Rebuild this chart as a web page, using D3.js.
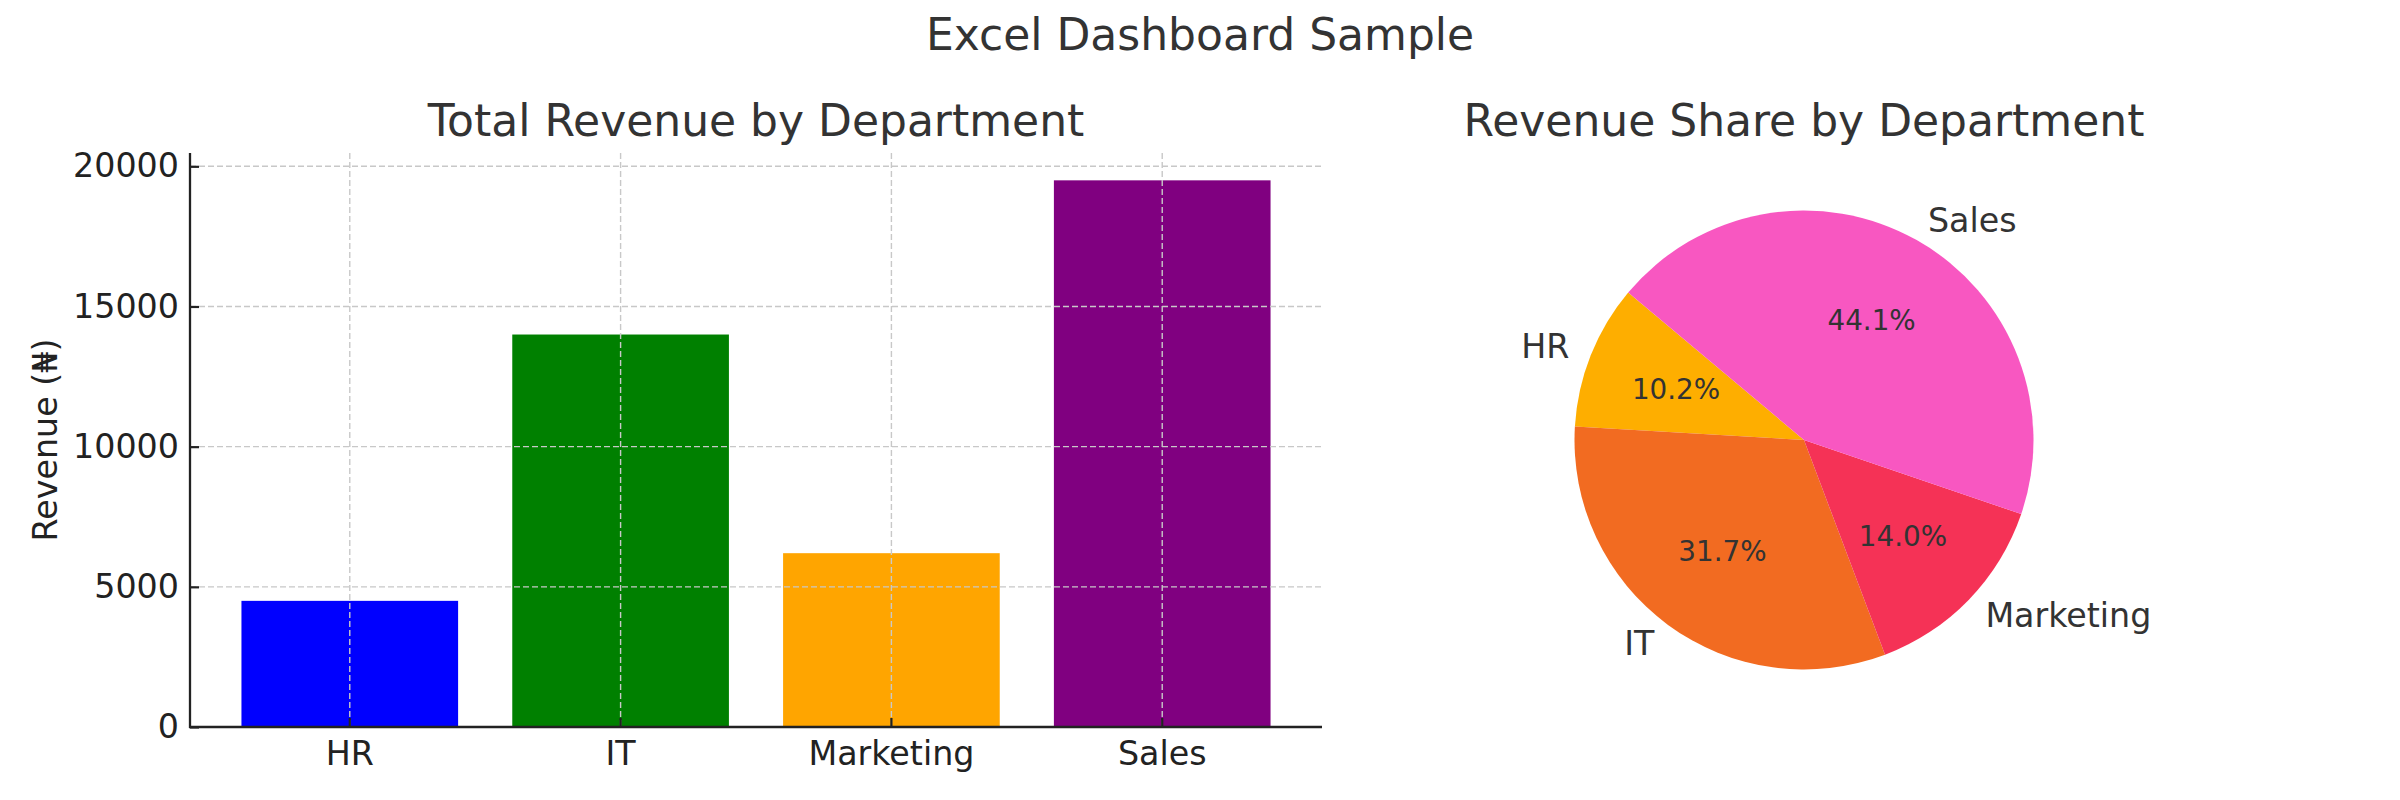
<!DOCTYPE html>
<html>
<head>
<meta charset="utf-8">
<script src="https://cdn.jsdelivr.net/npm/d3@7"></script>
<style>
  body { margin: 0; background: #fff; }
  text { font-family: "DejaVu Sans", sans-serif; }
</style>
</head>
<body>
<script>
// data
var departments = ["HR", "IT", "Marketing", "Sales"];
var revenue = [4500, 14000, 6200, 19500];
var barColors = ["#0000ff", "#008000", "#ffa500", "#800080"];
var pieColors = ["#feae00", "#f26b21", "#f53256", "#f857c1"];
var yTicks = [0, 5000, 10000, 15000, 20000];

var W = 2400, H = 800;

var svg = d3.select("body").append("svg")
  .attr("width", W)
  .attr("height", H);

svg.append("text")
  .attr("x", 1200).attr("y", 50)
  .attr("text-anchor", "middle")
  .style("font-size", "44px")
  .style("fill", "#333")
  .text("Excel Dashboard Sample");

// ---- bar chart ----
var plot = { left: 190, right: 1322, top: 153, bottom: 727 };

var x = d3.scaleBand()
  .domain(departments)
  .range([plot.left, plot.right])
  .paddingInner(0.2)
  .paddingOuter(0.19);

var y = d3.scaleLinear()
  .domain([0, d3.max(revenue) * 1.05])
  .range([plot.bottom, plot.top]);

var bar = svg.append("g").attr("id", "bar-chart");

bar.append("text")
  .attr("x", (plot.left + plot.right) / 2).attr("y", 136)
  .attr("text-anchor", "middle")
  .style("font-size", "44px")
  .style("fill", "#333")
  .text("Total Revenue by Department");

bar.selectAll(".bar")
  .data(revenue)
  .enter()
  .append("rect")
  .attr("class", "bar")
  .attr("x", (d, i) => x(departments[i]))
  .attr("y", d => y(d))
  .attr("width", x.bandwidth())
  .attr("height", d => y(0) - y(d))
  .attr("fill", (d, i) => barColors[i]);

// grid on top of bars (dashed)
var grid = bar.append("g").attr("class", "grid")
  .style("stroke", "#c8c8c8")
  .style("stroke-width", 1.4)
  .style("stroke-dasharray", "6,3");

grid.selectAll(".hgrid")
  .data(yTicks)
  .enter().append("line")
  .attr("x1", plot.left).attr("x2", plot.right)
  .attr("y1", d => y(d)).attr("y2", d => y(d));

grid.selectAll(".vgrid")
  .data(departments)
  .enter().append("line")
  .attr("x1", d => x(d) + x.bandwidth() / 2)
  .attr("x2", d => x(d) + x.bandwidth() / 2)
  .attr("y1", plot.top).attr("y2", plot.bottom);

// axes
var yAxis = d3.axisLeft(y)
  .tickValues(yTicks)
  .tickFormat(d3.format("d"))
  .tickSizeInner(-9).tickSizeOuter(0).tickPadding(11);
var gy = bar.append("g")
  .attr("transform", "translate(" + plot.left + ",0)")
  .call(yAxis);
gy.select(".domain").remove();
gy.selectAll(".tick line").style("stroke", "#222").style("stroke-width", 2.2);
gy.selectAll(".tick text")
  .style("font-size", "33.3px")
  .style("font-family", "DejaVu Sans")
  .style("fill", "#222");

var xAxis = d3.axisBottom(x).tickSizeInner(-9).tickSizeOuter(0).tickPadding(0);
var gx = bar.append("g")
  .attr("transform", "translate(0," + plot.bottom + ")")
  .call(xAxis);
gx.select(".domain").remove();
gx.selectAll(".tick line").style("stroke", "#222").style("stroke-width", 2.2);
gx.selectAll(".tick text")
  .attr("y", 38).attr("dy", null)
  .style("font-size", "33.3px")
  .style("font-family", "DejaVu Sans")
  .style("fill", "#222");

// spines: left and bottom only
bar.append("line")
  .attr("x1", plot.left).attr("x2", plot.left)
  .attr("y1", plot.top).attr("y2", plot.bottom + 1)
  .style("stroke", "#222").style("stroke-width", 2.3);
bar.append("line")
  .attr("x1", plot.left - 1).attr("x2", plot.right)
  .attr("y1", plot.bottom).attr("y2", plot.bottom)
  .style("stroke", "#222").style("stroke-width", 2.3);

bar.append("text")
  .attr("transform", "translate(57," + (plot.top + plot.bottom) / 2 + ") rotate(-90)")
  .attr("text-anchor", "middle")
  .style("font-size", "33.3px")
  .style("fill", "#222")
  .text("Revenue (\u20a6)");

// ---- pie chart ----
var cx = 1804, cy = 440, r = 229.5;
var total = d3.sum(revenue);
var startDeg = 140; // counterclockwise from 3 o'clock, like matplotlib

var pie = d3.pie()
  .sort(null)
  .startAngle((90 - startDeg) * Math.PI / 180)
  .endAngle((90 - startDeg - 360) * Math.PI / 180);

var arcs = pie(revenue);
var arc = d3.arc().innerRadius(0).outerRadius(r);

var pg = svg.append("g").attr("id", "pie-chart");

pg.append("text")
  .attr("x", cx).attr("y", 136)
  .attr("text-anchor", "middle")
  .style("font-size", "44px")
  .style("fill", "#333")
  .text("Revenue Share by Department");

var slices = pg.append("g").attr("transform", "translate(" + cx + "," + cy + ")");

slices.selectAll("path")
  .data(arcs)
  .enter().append("path")
  .attr("d", arc)
  .attr("fill", (d, i) => pieColors[i]);

function midPoint(d, k) {
  var a = (d.startAngle + d.endAngle) / 2;
  return [Math.sin(a) * r * k, -Math.cos(a) * r * k];
}

slices.selectAll(".pie-label")
  .data(arcs)
  .enter().append("text")
  .attr("class", "pie-label")
  .attr("x", d => midPoint(d, 1.1)[0])
  .attr("y", d => midPoint(d, 1.1)[1])
  .attr("dy", "0.35em")
  .attr("text-anchor", d => midPoint(d, 1.1)[0] >= 0 ? "start" : "end")
  .style("font-size", "33.3px")
  .style("fill", "#333")
  .text((d, i) => departments[i]);

slices.selectAll(".pct-label")
  .data(arcs)
  .enter().append("text")
  .attr("class", "pct-label")
  .attr("x", d => midPoint(d, 0.6)[0])
  .attr("y", d => midPoint(d, 0.6)[1])
  .attr("dy", "0.35em")
  .attr("text-anchor", "middle")
  .style("font-size", "27.8px")
  .style("fill", "#333")
  .text(d => (d.value / total * 100).toFixed(1) + "%");
</script>
</body>
</html>
